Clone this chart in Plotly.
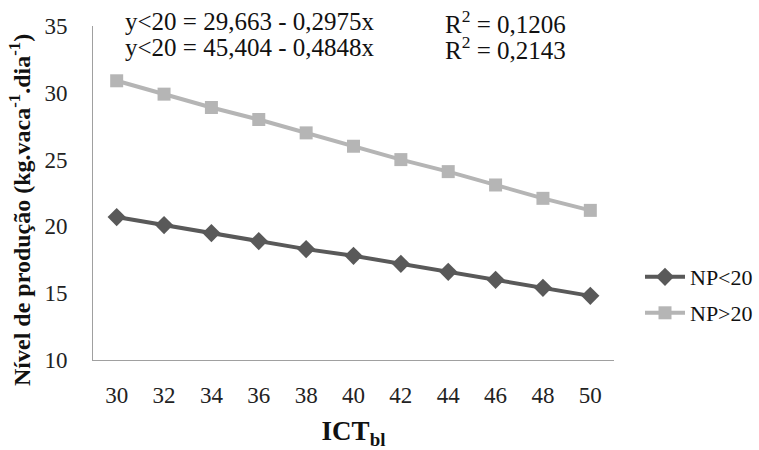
import plotly.graph_objects as go

ict = [30, 32, 34, 36, 38, 40, 42, 44, 46, 48, 50]
ict_labels = [str(v) for v in ict]
np_menor20 = [20.7, 20.1, 19.5, 18.9, 18.3, 17.8, 17.2, 16.6, 16.0, 15.4, 14.8]
np_maior20 = [30.9, 29.9, 28.9, 28.0, 27.0, 26.0, 25.0, 24.1, 23.1, 22.1, 21.2]

FONT = "Liberation Serif"
DARK = "#595959"
LIGHT = "#b5b5b5"

PL, PT, PW, PH = 93, 26, 521, 334

def px_x(x):
    return (x - PL) / PW

def px_y(y):
    return 1 - (y - PT) / PH

fig = go.Figure()
fig.add_trace(go.Scatter(
    x=ict_labels, y=np_menor20, name="NP<20", mode="lines+markers",
    line=dict(color=DARK, width=4),
    marker=dict(symbol="diamond", size=14, color=DARK),
    legend="legend",
))
fig.add_trace(go.Scatter(
    x=ict_labels, y=np_maior20, name="NP>20", mode="lines+markers",
    line=dict(color=LIGHT, width=4),
    marker=dict(symbol="square", size=13, color=LIGHT),
    legend="legend2",
))

legend_common = dict(xanchor="left", yanchor="middle", bgcolor="rgba(0,0,0,0)",
                     font=dict(family=FONT, size=22, color="#111111"), itemwidth=40)

fig.update_layout(
    width=759, height=450,
    margin=dict(l=PL, r=759 - PL - PW, t=PT, b=450 - PT - PH, autoexpand=False),
    paper_bgcolor="white", plot_bgcolor="white",
    font=dict(family=FONT, size=23, color="#222222"),
    showlegend=True,
    legend=dict(x=px_x(640), y=px_y(277), **legend_common),
    legend2=dict(x=px_x(640), y=px_y(313), **legend_common),
    xaxis=dict(
        type="category", showgrid=False, showline=True, linecolor="#a0a0a0",
        linewidth=1, ticks="", ticklen=0, range=[-0.5, 10.5],
        ticklabelstandoff=14, automargin=False,
        tickfont=dict(family=FONT, size=23, color="#222222"),
        title=dict(text="<b>ICT<sub>bl</sub></b>", font=dict(family=FONT, size=27, color="#111111"), standoff=21),
    ),
    yaxis=dict(
        range=[10, 35], dtick=5, showgrid=False, showline=True, linecolor="#a0a0a0",
        linewidth=1, ticks="", zeroline=False, ticklabelstandoff=20, automargin=False,
        tickfont=dict(family=FONT, size=23, color="#222222"),
    ),
)

# y-axis title placed as a rotated annotation (pixel-matched position)
fig.add_annotation(
    text="<b>Nível de produção (kg.vaca<sup>-1</sup>.dia<sup>-1</sup>)</b>",
    xref="paper", yref="paper", x=px_x(20), y=px_y(210),
    xanchor="center", yanchor="middle", textangle=-90, showarrow=False,
    font=dict(family=FONT, size=24, color="#111111"),
)

annotations = [
    ("y<20 = 29,663 - 0,2975x", 123, 22),
    ("y<20 = 45,404 - 0,4848x", 123, 48),
    ("R<sup>2</sup> = 0,1206", 443, 22),
    ("R<sup>2</sup> = 0,2143", 443, 48),
]
for text, xpix, ypix in annotations:
    fig.add_annotation(
        text=text, xref="paper", yref="paper", x=px_x(xpix),
        y=px_y(ypix), xanchor="left", yanchor="middle",
        showarrow=False, font=dict(family=FONT, size=25, color="#111111"),
    )

fig.write_html("out.html")
